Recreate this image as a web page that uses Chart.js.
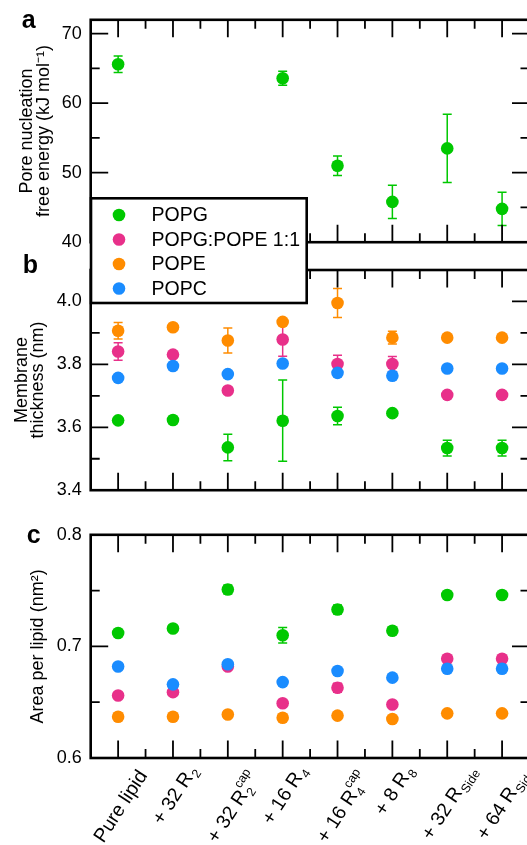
<!DOCTYPE html>
<html>
<head>
<meta charset="utf-8">
<script src="https://cdn.jsdelivr.net/npm/chart.js@4.4.1/dist/chart.umd.min.js"></script>
<style>
  html, body { margin: 0; padding: 0; background: #fff; }
  #wrap { position: relative; width: 527px; height: 845px; overflow: hidden; }
  canvas { position: absolute; left: 0; }
  #panelA { top: 0; z-index: 1; }
  #panelB { top: 190px; z-index: 2; }
  #panelC { top: 515px; z-index: 1; }
</style>
</head>
<body>
<div id="wrap">
  <canvas id="panelA" width="540" height="262"></canvas>
  <canvas id="panelB" width="540" height="320"></canvas>
  <canvas id="panelC" width="540" height="330"></canvas>
</div>
<script>
// categories (_x = subscript, ^x = superscript)
const categories = ['Pure lipid', '+ 32 R_2', '+ 32 R_2^cap', '+ 16 R_4', '+ 16 R_4^cap', '+ 8 R_8', '+ 32 R_Side', '+ 64 R_Side'];
const seriesNames = ['POPG', 'POPG:POPE 1:1', 'POPE', 'POPC'];
const seriesColors = ['#00c800', '#e8308a', '#ff8c00', '#1a8cff'];

// a: pore nucleation free energy (kJ/mol), POPG only
const energyPOPG = [65.6, null, null, 63.6, 51.0, 45.8, 53.5, 44.8];
const energyPOPGErr = [1.2, null, null, 1.0, 1.4, 2.4, 4.9, 2.4];

// b: membrane thickness (nm)
const thickPOPG = [3.622, 3.623, 3.536, 3.621, 3.636, 3.645, 3.534, 3.534];
const thickPOPGErr = [0, 0, 0.042, 0.129, 0.028, 0, 0.025, 0.025];
const thickMix = [3.841, 3.831, 3.717, 3.879, 3.801, 3.801, 3.703, 3.703];
const thickMixErr = [0.028, 0, 0.01, 0.053, 0.028, 0.024, 0, 0];
const thickPOPE = [3.907, 3.918, 3.876, 3.935, 3.995, 3.885, 3.885, 3.885];
const thickPOPEErr = [0.026, 0, 0.04, 0, 0.046, 0.02, 0, 0];
const thickPOPC = [3.757, 3.795, 3.769, 3.803, 3.773, 3.764, 3.787, 3.787];
const thickPOPCErr = [0, 0, 0.01, 0, 0, 0, 0, 0];

// c: area per lipid (nm^2)
const areaPOPG = [0.712, 0.716, 0.751, 0.710, 0.733, 0.714, 0.746, 0.746];
const areaPOPGErr = [0, 0, 0.004, 0.007, 0.004, 0, 0, 0];
const areaMix = [0.656, 0.659, 0.682, 0.649, 0.663, 0.648, 0.689, 0.689];
const areaMixErr = [0, 0, 0, 0, 0.004, 0, 0, 0];
const areaPOPE = [0.637, 0.637, 0.639, 0.636, 0.638, 0.635, 0.640, 0.640];
const areaPOPC = [0.682, 0.666, 0.684, 0.668, 0.678, 0.672, 0.680, 0.680];

// tick values
const energyTicks = [40, 50, 60, 70];
const energyMinor = [45, 55, 65];
const thickTicks = [3.4, 3.6, 3.8, 4.0];
const thickMinor = [3.5, 3.7, 3.9];
const areaTicks = [0.6, 0.7, 0.8];
const areaMinor = [0.65, 0.75];

const FONT = '"Liberation Sans", Arial, Helvetica, sans-serif';
Chart.defaults.font.family = FONT;
Chart.defaults.color = '#000';

function splitLabel(label) {
  const m = label.match(/^([^_^]*)(?:_([^^]*))?(?:\^(.*))?$/);
  return { main: m[1], sub: m[2] || '', sup: m[3] || '' };
}

// draw a rotated label whose bounding box is centred on x and hangs from top
function drawTickLabel(ctx, label, x, top) {
  const ang = 57 * Math.PI / 180, big = 19.5, small = 12.5;
  const p = splitLabel(label);
  ctx.textAlign = 'left';
  ctx.textBaseline = 'alphabetic';
  ctx.font = big + 'px ' + FONT;
  const wMain = ctx.measureText(p.main).width;
  const pieces = [{ t: p.main, f: big, x: 0, y: 0 }];
  if (p.sub) pieces.push({ t: p.sub, f: small, x: wMain + 1, y: 4.5 });
  if (p.sup) pieces.push({ t: p.sup, f: small, x: wMain + 1, y: -10.5 });

  const c = Math.cos(ang), s = Math.sin(ang);
  let minX = Infinity, maxX = -Infinity, minY = Infinity;
  pieces.forEach(q => {
    ctx.font = q.f + 'px ' + FONT;
    const m = ctx.measureText(q.t);
    const xs = [q.x - m.actualBoundingBoxLeft, q.x + m.actualBoundingBoxRight];
    const ys = [q.y - m.actualBoundingBoxAscent, q.y + m.actualBoundingBoxDescent];
    xs.forEach(lx => ys.forEach(ly => {
      const rx = lx * c + ly * s, ry = -lx * s + ly * c;
      minX = Math.min(minX, rx); maxX = Math.max(maxX, rx); minY = Math.min(minY, ry);
    }));
  });

  ctx.save();
  ctx.translate(x - (minX + maxX) / 2, top - minY);
  ctx.rotate(-ang);
  pieces.forEach(q => {
    ctx.font = q.f + 'px ' + FONT;
    ctx.fillText(q.t, q.x, q.y);
  });
  ctx.restore();
}

const panelPlugin = {
  id: 'panel',
  beforeDatasetsDraw(chart) {
    const { ctx, scales: { x, y } } = chart;
    chart.data.datasets.forEach(ds => {
      if (!ds.errors) return;
      ctx.save();
      ctx.strokeStyle = ds.backgroundColor;
      ctx.lineWidth = 1.5;
      ctx.beginPath();
      ds.data.forEach((v, i) => {
        const e = ds.errors[i];
        if (v == null || !e) return;
        const px = x.getPixelForValue(i);
        const top = y.getPixelForValue(v + e), bot = y.getPixelForValue(v - e);
        ctx.moveTo(px, top); ctx.lineTo(px, bot);
        ctx.moveTo(px - 4.5, top); ctx.lineTo(px + 4.5, top);
        ctx.moveTo(px - 4.5, bot); ctx.lineTo(px + 4.5, bot);
      });
      ctx.stroke();
      ctx.restore();
    });
  },
  afterDraw(chart, args, opts) {
    const { ctx, chartArea: a, scales: { x, y } } = chart;
    ctx.save();
    ctx.strokeStyle = '#000';
    ctx.fillStyle = '#000';

    // inward ticks on all four sides
    ctx.lineWidth = 1.8;
    ctx.beginPath();
    const yTick = (v, len) => {
      const py = y.getPixelForValue(v);
      ctx.moveTo(a.left, py); ctx.lineTo(a.left + len, py);
      ctx.moveTo(a.right, py); ctx.lineTo(a.right - len, py);
    };
    const xTick = (v, len) => {
      const px = x.getPixelForValue(v);
      ctx.moveTo(px, a.top); ctx.lineTo(px, a.top + len);
      ctx.moveTo(px, a.bottom); ctx.lineTo(px, a.bottom - len);
    };
    opts.major.forEach(v => yTick(v, 17.5));
    opts.minor.forEach(v => yTick(v, 9));
    chart.data.labels.forEach((l, i) => { xTick(i, 17.5); xTick(i + 0.5, 9); });
    ctx.stroke();

    ctx.lineWidth = 2.6;
    ctx.strokeRect(a.left, a.top, a.right - a.left, a.bottom - a.top);

    // panel letter
    ctx.font = 'bold 25px ' + FONT;
    ctx.textAlign = 'left';
    ctx.textBaseline = 'alphabetic';
    ctx.fillText(opts.letter, opts.letterPos[0], opts.letterPos[1]);

    // y axis title
    ctx.font = '18px ' + FONT;
    ctx.textAlign = 'center';
    const cy = (a.top + a.bottom) / 2;
    opts.title.forEach((line, k) => {
      ctx.save();
      ctx.translate(opts.titleX[k], cy);
      ctx.rotate(-Math.PI / 2);
      ctx.fillText(line, 0, 0);
      ctx.restore();
    });

    // rotated category labels
    if (opts.xLabels) {
      chart.data.labels.forEach((label, i) => {
        drawTickLabel(ctx, label, x.getPixelForValue(i) + 3, a.bottom + 10);
      });
    }

    // legend box
    if (opts.legend) {
      const L = opts.legend;
      ctx.fillStyle = '#fff';
      ctx.fillRect(L.x, L.y, L.w, L.h);
      ctx.lineWidth = 2.6;
      ctx.strokeRect(L.x, L.y, L.w, L.h);
      ctx.font = '19.5px ' + FONT;
      ctx.textAlign = 'left';
      ctx.textBaseline = 'middle';
      chart.data.datasets.forEach((ds, k) => {
        const ry = L.y + L.first + k * L.step;
        ctx.fillStyle = ds.backgroundColor;
        ctx.beginPath();
        ctx.arc(L.x + 28, ry, 6.3, 0, Math.PI * 2);
        ctx.fill();
        ctx.fillStyle = '#000';
        ctx.fillText(ds.label, L.x + 60.5, ry + 1);
      });
    }
    ctx.restore();
  }
};

function makeDatasets(values, errors) {
  return values.map((vals, k) => ({
    label: seriesNames[k],
    data: vals,
    errors: errors[k],
    backgroundColor: seriesColors[k],
    borderColor: seriesColors[k],
    pointBackgroundColor: seriesColors[k],
    pointBorderWidth: 0,
    pointRadius: 6.3,
    showLine: false,
    order: 3 - k
  }));
}

function makeChart(id, datasets, yMin, yMax, major, minor, digits, padding, panelOpts) {
  return new Chart(document.getElementById(id), {
    type: 'line',
    data: { labels: categories, datasets: datasets },
    options: {
      responsive: false,
      animation: false,
      events: [],
      layout: { padding: padding },
      plugins: {
        legend: { display: false },
        tooltip: { enabled: false },
        panel: Object.assign({ major: major, minor: minor }, panelOpts)
      },
      scales: {
        x: { type: 'category', offset: true, display: false },
        y: {
          min: yMin,
          max: yMax,
          grid: { display: false, drawTicks: false },
          border: { display: false },
          afterBuildTicks: s => { s.ticks = major.map(v => ({ value: v })); },
          afterFit: s => { s.width = 90.7; },
          ticks: {
            padding: 9,
            font: { size: 18 },
            color: '#000',
            callback: v => v.toFixed(digits)
          }
        }
      }
    },
    plugins: [panelPlugin]
  });
}

makeChart('panelA',
  makeDatasets([energyPOPG], [energyPOPGErr]),
  40, 72, energyTicks, energyMinor, 0,
  { left: 0, right: 10.5, top: 14.7, bottom: 15 },
  { letter: 'a', letterPos: [21.7, 28], title: ['Pore nucleation', 'free energy (kJ mol\u207B\u00B9)'], titleX: [32.3, 49.3] });

makeChart('panelB',
  makeDatasets([thickPOPG, thickMix, thickPOPE, thickPOPC], [thickPOPGErr, thickMixErr, thickPOPEErr, thickPOPCErr]),
  3.4, 4.1, thickTicks, thickMinor, 1,
  { left: 0, right: 10.5, top: 80, bottom: 7.3 },
  { letter: 'b', letterPos: [22.7, 83], title: ['Membrane', 'thickness (nm)'], titleX: [26.7, 43.3],
    legend: { x: 91, y: 8.3, w: 215.7, h: 104.7, first: 16.7, step: 24.5 } });

makeChart('panelC',
  makeDatasets([areaPOPG, areaMix, areaPOPE, areaPOPC], [areaPOPGErr, areaMixErr, null, null]),
  0.6, 0.8, areaTicks, areaMinor, 1,
  { left: 0, right: 10.5, top: 11, bottom: 87 },
  { letter: 'c', letterPos: [26.7, 28], title: ['Area per lipid (nm\u00B2)'], titleX: [43.3], xLabels: true });
</script>
</body>
</html>
